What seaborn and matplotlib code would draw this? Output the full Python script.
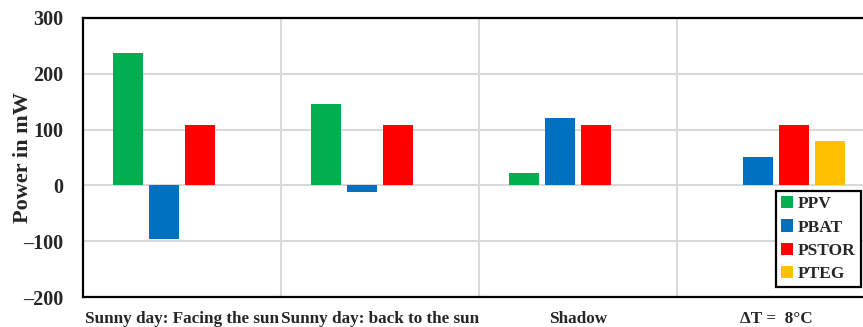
import numpy as np
import pandas as pd
import seaborn as sns
import matplotlib.pyplot as plt
from matplotlib.ticker import FixedLocator

categories = ["Sunny day: Facing the sun", "Sunny day: back to the sun", "Shadow", "\u0394T =  8\u00b0C"]
series = ["PPV", "PBAT", "PSTOR", "PTEG"]
ppv = [237, 146, 22, np.nan]
pbat = [-96, -11, 121, 51]
pstor = [108, 108, 108, 108]
pteg = [np.nan, np.nan, np.nan, 80]
colors = ["#00b050", "#0070c0", "#ff0000", "#ffc000"]
yticks = [-200, -100, 0, 100, 200, 300]

rows = []
for name, vals in zip(series, [ppv, pbat, pstor, pteg]):
    for c, v in zip(categories, vals):
        rows.append({"Condition": c, "Series": name, "Power": v})
df = pd.DataFrame(rows)

sns.set_style("white")
plt.rcParams['font.family'] = ['Liberation Serif', 'DejaVu Serif']
plt.rcParams['font.weight'] = 'bold'

fig = plt.figure(figsize=(8.63, 3.27), dpi=100)
ax = fig.add_axes([0.0962, 0.0917, 0.9038, 0.8533])

sns.barplot(data=df, x="Condition", y="Power", hue="Series", order=categories,
            hue_order=series, palette=colors, width=0.727, gap=0.167,
            errorbar=None, ax=ax, saturation=1, linewidth=0)

ax.set_ylim(-200, 300)
ax.set_xlim(-0.5, 3.44)
ax.set_yticks(yticks)
ax.set_yticklabels([str(t).replace('-', '\u2013') for t in yticks], fontsize=14.5, fontweight='bold')
ax.xaxis.set_minor_locator(FixedLocator([0.5, 1.5, 2.5]))
ax.grid(False)
ax.grid(True, axis='y', which='major', color='#d9d9d9', linewidth=1.5, zorder=0)
ax.grid(True, axis='x', which='minor', color='#d9d9d9', linewidth=1.5, zorder=0)
ax.set_axisbelow(True)
ax.tick_params(axis='both', which='both', length=0)
ax.tick_params(axis='x', pad=10, labelsize=12.3)
ax.tick_params(axis='y', pad=14)
for lab in ax.get_xticklabels():
    lab.set_fontweight('bold')
ax.set_xlabel("")
ax.set_ylabel("Power in mW", fontsize=16, fontweight='bold')
ax.yaxis.set_label_coords(-0.064, 0.5)

for s in ['top', 'bottom', 'left']:
    ax.spines[s].set_color('black')
    ax.spines[s].set_linewidth(1.6)
ax.spines['right'].set_visible(False)

leg = ax.legend(loc='lower right', bbox_to_anchor=(0.997, 0.036), frameon=True, fancybox=False,
                edgecolor='black', framealpha=1, prop={'weight': 'bold', 'size': 12.5},
                handlelength=0.7, handleheight=0.7, handletextpad=0.25,
                labelspacing=0.4, borderpad=0.3, borderaxespad=0)
leg.get_frame().set_linewidth(1.6)

fig.savefig("out.png", dpi=100)
